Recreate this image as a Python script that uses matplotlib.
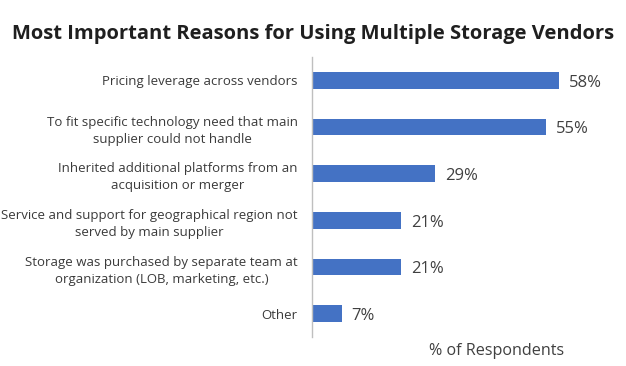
import matplotlib
matplotlib.use("Agg")
import matplotlib.pyplot as plt

categories = [
    "Pricing leverage across vendors",
    "To fit specific technology need that main\nsupplier could not handle",
    "Inherited additional platforms from an\nacquisition or merger",
    "Service and support for geographical region not\nserved by main supplier",
    "Storage was purchased by separate team at\norganization (LOB, marketing, etc.)",
    "Other",
]
values = [58, 55, 29, 21, 21, 7]
value_labels = ["58%", "55%", "29%", "21%", "21%", "7%"]

plt.rcParams['font.family'] = ['Open Sans', 'DejaVu Sans']

fig = plt.figure(figsize=(6.26, 3.66), dpi=100)
ax = fig.add_axes([0.498, 0.079, 0.463, 0.765])

ypos = list(range(len(categories)))[::-1]
ax.barh(ypos, values, height=0.36, color="#4472C4")
ax.set_ylim(-0.5, len(categories) - 0.5)
ax.set_xlim(0, 68)

for y, v, lab in zip(ypos, values, value_labels):
    ax.annotate(lab, (v, y), xytext=(7, -1.5), textcoords="offset points",
                va="center", ha="left", fontsize=12, color="#404040")

ax.set_yticks(ypos)
ax.set_yticklabels(categories, fontsize=9.5, color="#3A3A3A")
ax.tick_params(axis="y", length=0, pad=10)
for lbl in ax.get_yticklabels():
    lbl.set_horizontalalignment("right")
    lbl.set_multialignment("center")
    lbl.set_linespacing(1.4)
ax.set_xticks([])
for s in ["top", "right", "bottom"]:
    ax.spines[s].set_visible(False)
ax.spines["left"].set_color("#BFBFBF")
ax.spines["left"].set_linewidth(1)

fig.text(0.5, 0.908, "Most Important Reasons for Using Multiple Storage Vendors",
         ha="center", va="center", fontsize=14.5, fontweight="bold", color="#1F1F1F")
fig.text(0.793, 0.04, "% of Respondents", ha="center", va="center",
         fontsize=11.6, color="#404040")

fig.savefig("out.png", dpi=100)
